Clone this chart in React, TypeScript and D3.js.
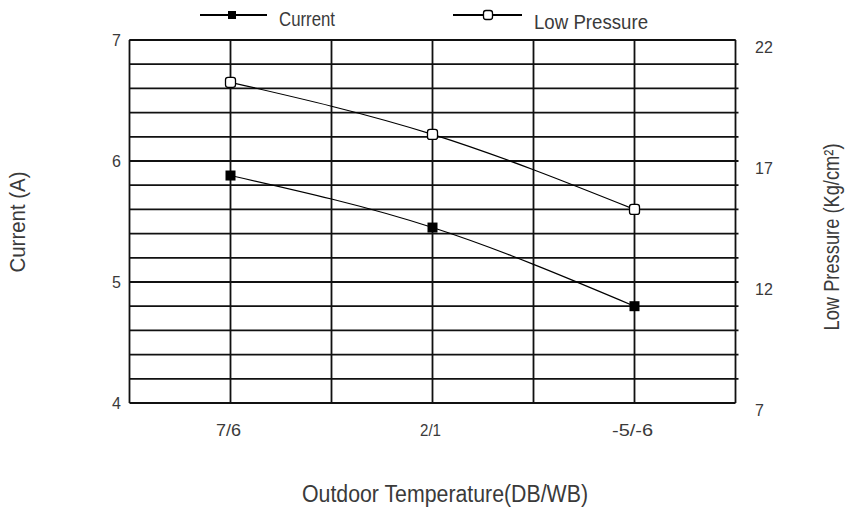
import React from "react";
import * as d3 from "d3";

const categories = ["7/6", "2/1", "-5/-6"];
const categorySlots = [1, 3, 5];
const currentValues = [5.88, 5.45, 4.8];
const lowPressureValues = [20.25, 18.1, 15.0];
const leftTicks = [4, 5, 6, 7];
const rightTicks = [7, 12, 17, 22];
const seriesNames = ["Current", "Low Pressure"];

const W = 846;
const H = 508;
const FONT = "'Liberation Sans', Arial, sans-serif";
const TXT = "#3a3a3a";

export default function App() {
  const x = d3.scaleLinear().domain([0, 6]).range([129.5, 735.5]);
  const yL = d3.scaleLinear().domain([4, 7]).range([403, 40]);
  const yR = d3.scaleLinear().domain([7, 22]).range([403, 40]);

  const gridVals = d3.range(0, 16).map((i) => 4 + i * 0.2);
  const vertVals = d3.range(0, 7);

  const line = d3
    .line<[number, number]>()
    .x((d) => d[0])
    .y((d) => d[1])
    .curve(d3.curveNatural);

  const curPts: [number, number][] = categories.map((_, i) => [x(categorySlots[i]), yL(currentValues[i])]);
  const lpPts: [number, number][] = categories.map((_, i) => [x(categorySlots[i]), yR(lowPressureValues[i])]);

  const filled = (cx: number, cy: number, s: number, key: string) => (
    <rect key={key} x={cx - s / 2} y={cy - s / 2} width={s} height={s} fill="#000" />
  );
  const open = (cx: number, cy: number, s: number, key: string) => (
    <rect key={key} x={cx - s / 2} y={cy - s / 2} width={s} height={s} rx={2.5} fill="#fff" stroke="#000" strokeWidth={1.3} />
  );

  const [x0, x1] = x.range();
  const catLen = (c: string) => (c.length === 3 ? (c === "7/6" ? 25 : 21) : 41);

  return (
    <svg width={W} height={H} style={{ position: "absolute", left: 0, top: 0, background: "#fff" }} fontFamily={FONT}>
      <rect x={0} y={0} width={W} height={H} fill="#fff" />
      {gridVals.map((v, i) => (
        <line key={"h" + i} x1={x0} x2={x1 + (i === 0 || i === 15 ? 0 : 3)} y1={yL(v)} y2={yL(v)} stroke="#111" strokeWidth={1.8} />
      ))}
      <line x1={x0} x2={x1} y1={yL(7)} y2={yL(7)} stroke="#111" strokeWidth={1.8} />
      {vertVals.map((v) => (
        <line key={"v" + v} x1={x(v)} x2={x(v)} y1={yL(7)} y2={yL(4)} stroke="#111" strokeWidth={1.8} />
      ))}
      <path d={line(curPts) || ""} fill="none" stroke="#000" strokeWidth={1.2} />
      <path d={line(lpPts) || ""} fill="none" stroke="#000" strokeWidth={1.2} />
      {curPts.map((p, i) => filled(p[0], p[1], 10, "c" + i))}
      {lpPts.map((p, i) => open(p[0], p[1], 10, "l" + i))}
      {leftTicks.map((t) => (
        <text key={"lt" + t} x={121} y={yL(t)} dy="0.36em" textAnchor="end" fontSize={16} fill={TXT}>
          {t}
        </text>
      ))}
      {rightTicks.map((t) => (
        <text key={"rt" + t} x={755} y={yR(t) + 7} dy="0.36em" textAnchor="start" fontSize={16} fill={TXT}>
          {t}
        </text>
      ))}
      {categories.map((c, i) => (
        <text
          key={"xc" + i}
          x={x(categorySlots[i]) - 2}
          y={436}
          textAnchor="middle"
          fontSize={16}
          fill={TXT}
          textLength={catLen(c)}
          lengthAdjust="spacingAndGlyphs"
        >
          {c}
        </text>
      ))}
      <text x={445} y={502} textAnchor="middle" fontSize={23.5} fill={TXT} textLength={286} lengthAdjust="spacingAndGlyphs">
        Outdoor Temperature(DB/WB)
      </text>
      <text
        transform="translate(25,222) rotate(-90)"
        textAnchor="middle"
        fontSize={22}
        fill={TXT}
        textLength={101}
        lengthAdjust="spacingAndGlyphs"
      >
        Current (A)
      </text>
      <text
        transform="translate(839,237) rotate(-90)"
        textAnchor="middle"
        fontSize={22}
        fill={TXT}
        textLength={187}
        lengthAdjust="spacingAndGlyphs"
      >
        Low Pressure (Kg/cm²)
      </text>
      <line x1={200} x2={267} y1={15} y2={15} stroke="#000" strokeWidth={1.8} />
      {filled(232, 15, 8, "lg1")}
      <text x={279} y={26} fontSize={20} fill={TXT} textLength={56} lengthAdjust="spacingAndGlyphs">
        {seriesNames[0]}
      </text>
      <line x1={453} x2={522} y1={15} y2={15} stroke="#000" strokeWidth={1.8} />
      {open(488, 15, 9, "lg2")}
      <text x={534} y={29} fontSize={21} fill={TXT} textLength={114} lengthAdjust="spacingAndGlyphs">
        {seriesNames[1]}
      </text>
    </svg>
  );
}
